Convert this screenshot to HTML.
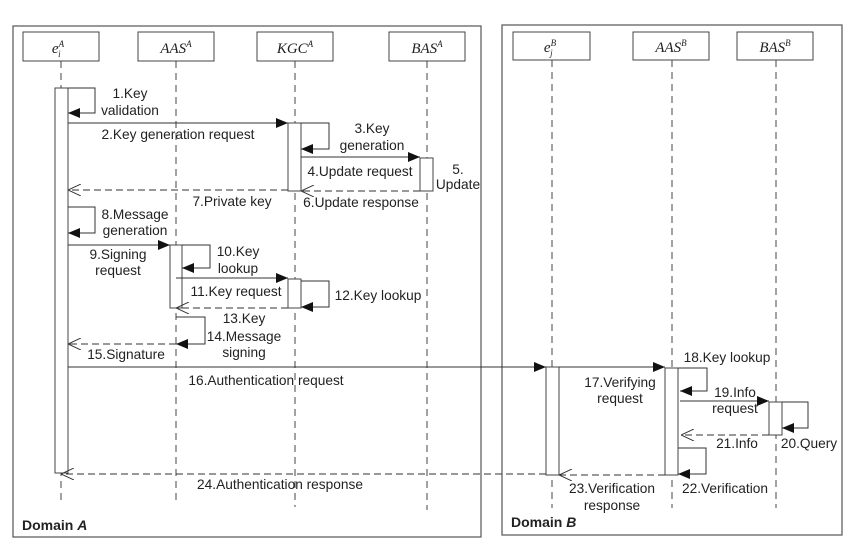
<!DOCTYPE html>
<html><head><meta charset="utf-8"><style>html,body{margin:0;padding:0;background:#fff}svg{display:block}</style></head><body>
<svg width="853" height="548" viewBox="0 0 853 548" xmlns="http://www.w3.org/2000/svg" font-family="Liberation Sans, sans-serif" font-size="13.7" fill="#222">
<defs>
<marker id="f" markerWidth="12" markerHeight="10" refX="12" refY="5" orient="auto" markerUnits="userSpaceOnUse"><path d="M0,0 L12,5 L0,10 z" fill="#111"/></marker>
<marker id="o" markerWidth="13" markerHeight="12" refX="13" refY="6" orient="auto" markerUnits="userSpaceOnUse"><path d="M0,0 L13,6 L0,12" fill="none" stroke="#333" stroke-width="1"/></marker>
</defs>
<g fill="none" stroke="#555" stroke-width="1.2">
<rect x="13" y="26" width="468" height="511"/>
<rect x="502" y="25" width="340" height="510"/>
</g>
<g fill="#fff" stroke="#444" stroke-width="1">
<rect x="23" y="32" width="76" height="29"/><rect x="138" y="32" width="76" height="29"/>
<rect x="257" y="32" width="76" height="29"/><rect x="389" y="32" width="76" height="29"/>
<rect x="513" y="32" width="77" height="28"/><rect x="633" y="32" width="76" height="28"/><rect x="737" y="32" width="76" height="28"/>
</g>
<g font-family="Liberation Serif, serif" font-style="italic" font-size="15" text-anchor="middle" fill="#222">
<text x="58" y="53">e<tspan font-size="9" dy="-6">A</tspan><tspan font-size="9" dx="-6" dy="10">i</tspan></text>
<text x="176" y="53">AAS<tspan font-size="9" dy="-6">A</tspan></text>
<text x="295" y="53">KGC<tspan font-size="9" dy="-6">A</tspan></text>
<text x="427" y="53">BAS<tspan font-size="9" dy="-6">A</tspan></text>
<text x="550" y="52">e<tspan font-size="9" dy="-6">B</tspan><tspan font-size="9" dx="-6" dy="10">j</tspan></text>
<text x="671" y="52">AAS<tspan font-size="9" dy="-6">B</tspan></text>
<text x="775" y="52">BAS<tspan font-size="9" dy="-6">B</tspan></text>
</g>
<g stroke="#444" stroke-width="1" stroke-dasharray="7,5">
<line x1="61" y1="61" x2="61" y2="505"/><line x1="176" y1="61" x2="176" y2="505"/>
<line x1="295" y1="61" x2="295" y2="507"/><line x1="427" y1="61" x2="427" y2="510"/>
<line x1="552" y1="60" x2="552" y2="508"/><line x1="672" y1="60" x2="672" y2="508"/><line x1="776" y1="60" x2="776" y2="508"/>
</g>
<g fill="#fff" stroke="#444" stroke-width="1">
<rect x="55" y="88" width="13" height="385"/>
<rect x="288" y="123" width="13" height="68"/>
<rect x="420" y="158" width="13" height="33"/>
<rect x="170" y="245" width="12" height="63"/>
<rect x="288" y="279" width="13" height="29"/>
<rect x="546" y="367" width="13" height="108"/>
<rect x="665" y="368" width="13" height="107"/>
<rect x="769" y="402" width="13" height="33"/>
</g>
<g fill="none" stroke="#333" stroke-width="1">
<path d="M68,88 H95 V113 H68" marker-end="url(#f)"/>
<line x1="68" y1="123" x2="288" y2="123" marker-end="url(#f)"/>
<path d="M301,123 H329 V149 H301" marker-end="url(#f)"/>
<line x1="301" y1="157" x2="420" y2="157" marker-end="url(#f)"/>
<line x1="420" y1="191" x2="301" y2="191" stroke-dasharray="7,4" marker-end="url(#o)"/>
<line x1="288" y1="190" x2="68" y2="190" stroke-dasharray="7,4" marker-end="url(#o)"/>
<path d="M68,207 H95 V233 H68" marker-end="url(#f)"/>
<line x1="68" y1="245" x2="170" y2="245" marker-end="url(#f)"/>
<path d="M182,245 H210 V268 H182" marker-end="url(#f)"/>
<line x1="176" y1="278" x2="288" y2="278" marker-end="url(#f)"/>
<path d="M301,281 H329 V307 H301" marker-end="url(#f)"/>
<line x1="288" y1="308" x2="176" y2="308" stroke-dasharray="7,4" marker-end="url(#o)"/>
<path d="M176,317 H205 V344 H176" marker-end="url(#f)"/>
<line x1="176" y1="344" x2="68" y2="344" stroke-dasharray="7,4" marker-end="url(#o)"/>
<line x1="68" y1="367" x2="546" y2="367" marker-end="url(#f)"/>
<line x1="559" y1="367" x2="665" y2="367" marker-end="url(#f)"/>
<path d="M678,368 H707 V391 H680" marker-end="url(#f)"/>
<line x1="680" y1="401" x2="769" y2="401" marker-end="url(#f)"/>
<path d="M782,402 H808 V428 H782" marker-end="url(#f)"/>
<line x1="769" y1="435" x2="681" y2="435" stroke-dasharray="7,4" marker-end="url(#o)"/>
<path d="M678,448 H706 V474 H678" marker-end="url(#f)"/>
<line x1="665" y1="475" x2="559" y2="475" stroke-dasharray="7,4" marker-end="url(#o)"/>
<line x1="546" y1="474" x2="61" y2="474" stroke-dasharray="7,4" marker-end="url(#o)"/>
</g>
<g text-anchor="middle">
<text x="130" y="98">1.Key</text><text x="130" y="115">validation</text>
<text x="178" y="139">2.Key generation request</text>
<text x="372" y="133">3.Key</text><text x="372" y="150">generation</text>
<text x="360" y="176">4.Update request</text>
<text x="458" y="174">5.</text><text x="458" y="189">Update</text>
<text x="361" y="207">6.Update response</text>
<text x="232" y="206">7.Private key</text>
<text x="135" y="219">8.Message</text><text x="135" y="235">generation</text>
<text x="118" y="259">9.Signing</text><text x="118" y="275">request</text>
<text x="238" y="256">10.Key</text><text x="238" y="273">lookup</text>
<text x="236" y="296">11.Key request</text>
<text x="378" y="300">12.Key lookup</text>
<text x="244" y="323">13.Key</text>
<text x="244" y="341">14.Message</text><text x="244" y="357">signing</text>
<text x="126" y="359">15.Signature</text>
<text x="266" y="385">16.Authentication request</text>
<text x="620" y="387">17.Verifying</text><text x="620" y="403">request</text>
<text x="727" y="362">18.Key lookup</text>
<text x="735" y="397">19.Info</text><text x="735" y="413">request</text>
<text x="809" y="448">20.Query</text>
<text x="737" y="448">21.Info</text>
<text x="725" y="493">22.Verification</text>
<text x="612" y="493">23.Verification</text><text x="612" y="510">response</text>
<text x="280" y="489">24.Authentication response</text>
</g>
<g font-weight="bold" font-size="14">
<text x="22" y="530">Domain <tspan font-style="italic">A</tspan></text>
<text x="511" y="527">Domain <tspan font-style="italic">B</tspan></text>
</g>
</svg>
</body></html>
